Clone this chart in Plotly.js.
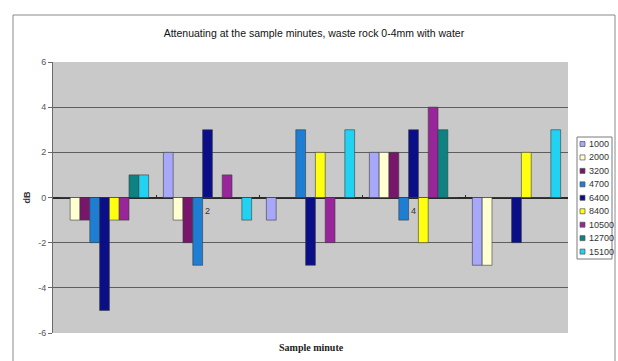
<!DOCTYPE html>
<html>
<head>
<meta charset="utf-8">
<script src="https://cdn.plot.ly/plotly-3.0.1.min.js"></script>
<style>
  html, body { margin: 0; padding: 0; background: #ffffff; }
  #chart { width: 618px; height: 361px; }
</style>
</head>
<body>
<div id="chart"></div>
<script>
// Sample minutes on the category axis
const minutes = ['1', '2', '3', '4', '5'];

// Frequency series (Hz) shown in the legend
const freqs = ['1000', '2000', '3200', '4700', '6400', '8400', '10500', '12700', '15100'];

// Attenuation in dB per sample minute, one array per frequency
const s1000  = [0, 2, -1, 2, -3];
const s2000  = [-1, -1, 0, 2, -3];
const s3200  = [-1, -2, 0, 2, 0];
const s4700  = [-2, -3, 3, -1, 0];
const s6400  = [-5, 3, -3, 3, -2];
const s8400  = [-1, 0, 2, -2, 2];
const s10500 = [-1, 1, -2, 4, 0];
const s12700 = [1, 0, 0, 3, 0];
const s15100 = [1, -1, 3, 0, 3];

// dB axis ticks (plain hyphen minus)
const yTickVals = [-6, -4, -2, 0, 2, 4, 6];
const yTickText = ['-6', '-4', '-2', '0', '2', '4', '6'];

const seriesValues = [s1000, s2000, s3200, s4700, s6400, s8400, s10500, s12700, s15100];

const colors = ['#a8a8fa', '#ffffd2', '#78166c', '#1e7ed4', '#0a0f88',
                '#ffff10', '#98259a', '#0e8282', '#22d2f2'];

// Plot-area geometry in pixels, used to place the hand-built legend
const W = 618, H = 361;
const M = { l: 53, r: 50, t: 62, b: 28 };
const PW = W - M.l - M.r, PH = H - M.t - M.b;
const px = x => (x - M.l) / PW;
const py = y => (H - M.b - y) / PH;

const traces = freqs.map((f, i) => ({
  type: 'bar',
  name: f,
  x: minutes,
  y: seriesValues[i],
  marker: { color: colors[i], line: { color: '#3a3a3a', width: 0.6 } },
  hoverinfo: 'x+y+name'
}));

const shapes = [];
const annotations = [];

// Outer chart-area frame
shapes.push({
  type: 'rect', xref: 'paper', yref: 'paper',
  x0: px(13), x1: px(615), y0: py(372), y1: py(15),
  line: { color: '#8a8a8a', width: 1 }, fillcolor: 'rgba(0,0,0,0)', layer: 'below'
});

// Legend box
shapes.push({
  type: 'rect', xref: 'paper', yref: 'paper',
  x0: px(577), x1: px(612), y0: py(259), y1: py(137),
  line: { color: '#7a7a7a', width: 1 }, fillcolor: '#ffffff'
});

// Legend entries: colour swatch and label
const legTop = 144, legStep = 13.45, sw = 5;
freqs.forEach((f, i) => {
  const cy = legTop + i * legStep;
  shapes.push({
    type: 'rect', xref: 'paper', yref: 'paper',
    x0: px(580), x1: px(580 + sw), y0: py(cy + sw / 2), y1: py(cy - sw / 2),
    line: { color: '#555555', width: 0.7 }, fillcolor: colors[i]
  });
  annotations.push({
    xref: 'paper', yref: 'paper', x: px(586.5), y: py(cy),
    xanchor: 'left', yanchor: 'middle', showarrow: false,
    text: f, font: { family: 'Liberation Sans Narrow, Liberation Sans, Arial, sans-serif', size: 9, color: '#333333' }
  });
});

// Category-axis title below the plot area
annotations.push({
  xref: 'paper', yref: 'paper', x: px(311), y: py(347),
  xanchor: 'center', yanchor: 'middle', showarrow: false,
  text: '<b>Sample minute</b>',
  font: { family: 'Liberation Serif, Times New Roman, serif', size: 10, color: '#222222' }
});

const layout = {
  width: W, height: H,
  margin: M,
  paper_bgcolor: '#ffffff',
  plot_bgcolor: '#c9c9c9',
  showlegend: false,
  barmode: 'group',
  bargap: 0.143,
  bargroupgap: 0,
  font: { family: 'Liberation Sans, Arial, sans-serif', size: 9, color: '#333333' },
  title: {
    text: 'Attenuating at the sample minutes, waste rock 0-4mm with water',
    x: 0.508, xref: 'container', xanchor: 'center',
    y: 1 - 33 / H, yref: 'container', yanchor: 'middle',
    font: { family: 'Liberation Sans, Arial, sans-serif', size: 10.5, color: '#111111' }
  },
  xaxis: {
    type: 'category',
    categoryorder: 'array', categoryarray: minutes,
    range: [-0.5, minutes.length - 0.5],
    anchor: 'free', position: 0.5,
    showline: true, linecolor: '#2a2a2a', linewidth: 1,
    ticks: 'inside', ticklen: 3, tickcolor: '#2a2a2a', tickson: 'boundaries',
    showgrid: false, zeroline: false,
    layer: 'below traces',
    ticklabelstandoff: 5,
    tickfont: { size: 9, color: '#333333' }
  },
  yaxis: {
    range: [-6, 6],
    tickmode: 'array', tickvals: yTickVals, ticktext: yTickText,
    showgrid: true, gridcolor: '#5e5e5e', gridwidth: 1,
    zeroline: true, zerolinecolor: '#2a2a2a', zerolinewidth: 1,
    showline: true, linecolor: '#6a6a6a', linewidth: 1,
    ticks: 'outside', ticklen: 4, tickcolor: '#6a6a6a',
    tickfont: { size: 9, color: '#555555' },
    title: { text: '<b>dB</b>', standoff: 6, font: { size: 9, color: '#333333' } }
  },
  shapes: shapes,
  annotations: annotations
};

Plotly.newPlot('chart', traces, layout, { displayModeBar: false, staticPlot: true });
</script>
</body>
</html>
